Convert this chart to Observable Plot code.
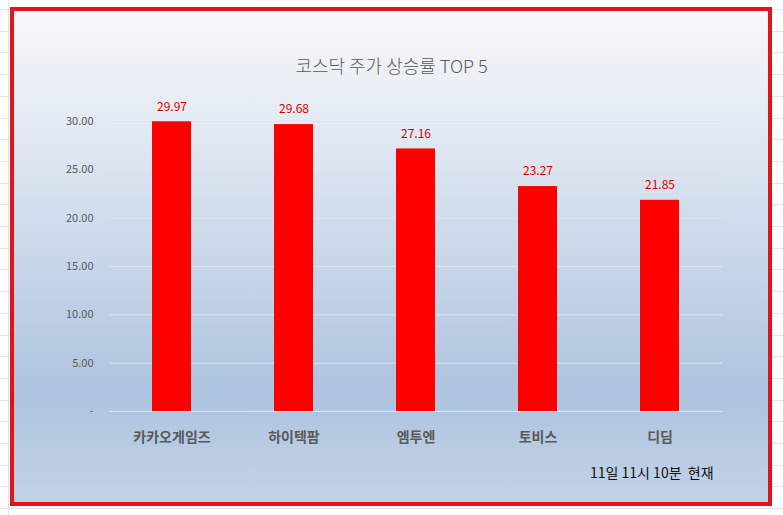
<!DOCTYPE html>
<html><head><meta charset="utf-8">
<script src="https://cdn.jsdelivr.net/npm/d3@7"></script>
<script src="https://cdn.jsdelivr.net/npm/@observablehq/plot@0.6"></script>
<style>
body{margin:0;background:#fff;}
#page{position:relative;width:783px;height:515px;overflow:hidden;
 background-image:repeating-linear-gradient(to bottom,transparent 0 9px,#e3e3e3 9px 10px,transparent 10px 21.7px);}
#vline{position:absolute;left:8px;top:0;width:1px;height:515px;background:#e3e3e3;}
#frame{position:absolute;left:10px;top:7px;width:754px;height:491px;border:4px solid #e3131b;
 background:linear-gradient(to bottom,#f6f8fb 0%,#e6ecf4 20%,#c9d7e9 50%,#adc3df 78%,#c3d3e7 100%);}
#title{position:absolute;left:0;width:783px;top:52px;text-align:center;font-family:"Noto Sans CJK KR";font-size:18px;font-weight:300;color:#595959;}
#note{position:absolute;left:590px;top:462px;font-family:"Noto Sans CJK KR";font-size:14px;color:#111;}
#chart{position:absolute;left:0;top:0;}
</style></head>
<body><div id="page"><div id="vline"></div><div id="frame"></div><div id="title">코스닥 주가 상승률 TOP 5</div><div id="chart"></div><div id="note">11일 11시 10분&nbsp; 현재</div></div>
<script>
const categories = ["카카오게임즈","하이텍팜","엠투엔","토비스","디딤"];
const values = [29.97, 29.68, 27.16, 23.27, 21.85];
const yTicks = [0, 5, 10, 15, 20, 25, 30];
const data = categories.map((c,i)=>({name:c, value:values[i]}));
const chart = Plot.plot({
  width:783, height:515,
  marginLeft:109, marginRight:61, marginTop:121, marginBottom:104,
  style:{background:"transparent", fontFamily:"Noto Sans CJK KR"},
  x:{domain:categories, paddingInner:0.68, paddingOuter:0.34, label:null},
  y:{domain:[0,30], label:null},
  marks:[
    Plot.gridY(yTicks,{stroke:"#dfe4ea", strokeOpacity:1}),
    Plot.axisY(yTicks,{tickSize:0, tickPadding:16, fontSize:11, fill:"#595959", label:null,
      tickFormat:d=>d===0?"-":d.toFixed(2)}),
    Plot.axisX({tickSize:0, tickPadding:21, fontSize:14, fontWeight:"bold", fill:"#595959", label:null}),
    Plot.barY(data,{x:"name", y:"value", fill:"#ff0000"}),
    Plot.text(data,{x:"name", y:"value", text:d=>d.value.toFixed(2), dy:-15, fill:"#d40000", fontSize:12})
  ]
});
document.getElementById("chart").appendChild(chart);
</script></body></html>
